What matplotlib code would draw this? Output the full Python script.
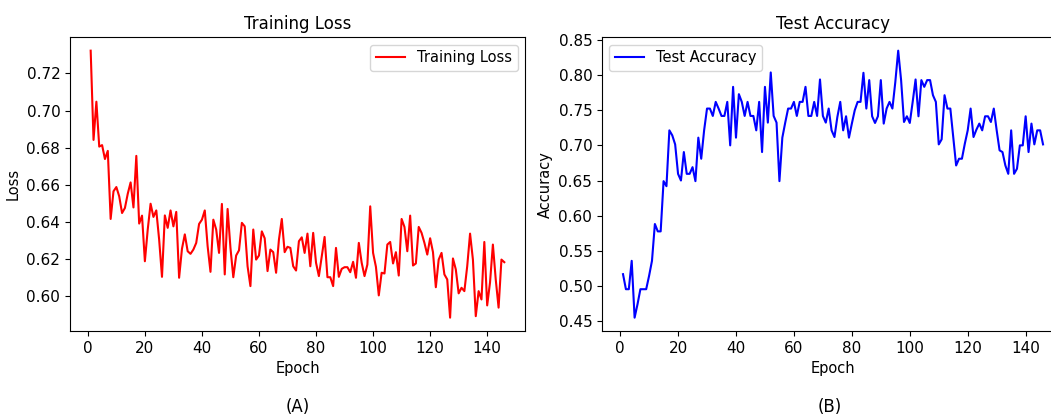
import matplotlib
matplotlib.use("Agg")
import matplotlib.pyplot as plt

# per-epoch training loss
train_loss = [
    0.7323, 0.6842, 0.7048, 0.6806, 0.6814, 0.6739, 0.6783, 0.6416, 0.6565, 0.6588,
    0.6538, 0.6448, 0.6475, 0.6552, 0.6613, 0.6478, 0.6756, 0.6391, 0.6434, 0.6188,
    0.6359, 0.6498, 0.6427, 0.6462, 0.6305, 0.6104, 0.6435, 0.6368, 0.6462, 0.6376,
    0.6454, 0.6099, 0.6255, 0.6333, 0.6242, 0.6228, 0.6251, 0.6287, 0.6389, 0.6412,
    0.6462, 0.6269, 0.6131, 0.6412, 0.6359, 0.6233, 0.6497, 0.6117, 0.6470, 0.6260,
    0.6102, 0.6219, 0.6247, 0.6395, 0.6376, 0.6161, 0.6054, 0.6359, 0.6197, 0.6219,
    0.6349, 0.6312, 0.6135, 0.6251, 0.6237, 0.6126, 0.6305, 0.6416, 0.6237, 0.6266,
    0.6260, 0.6161, 0.6138, 0.6296, 0.6317, 0.6233, 0.6337, 0.6161, 0.6341, 0.6180,
    0.6108, 0.6215, 0.6319, 0.6102, 0.6102, 0.6054, 0.6260, 0.6104, 0.6147, 0.6156,
    0.6156, 0.6129, 0.6185, 0.6099, 0.6287, 0.6180, 0.6108, 0.6170, 0.6484, 0.6233,
    0.6158, 0.6004, 0.6126, 0.6122, 0.6278, 0.6292, 0.6176, 0.6237, 0.6111, 0.6416,
    0.6373, 0.6242, 0.6434, 0.6165, 0.6176, 0.6373, 0.6341, 0.6287, 0.6224, 0.6312,
    0.6237, 0.6048, 0.6197, 0.6233, 0.6117, 0.6090, 0.5884, 0.6203, 0.6144, 0.6015,
    0.6045, 0.6027, 0.6161, 0.6337, 0.6197, 0.5892, 0.6027, 0.5982, 0.6292, 0.5950,
    0.6074, 0.6278, 0.6090, 0.5938, 0.6197, 0.6183,
]

# per-epoch test accuracy
test_acc = [
    0.5167, 0.4953, 0.4953, 0.5357, 0.4548, 0.4738, 0.4953, 0.4953, 0.4953, 0.5143,
    0.5357, 0.5881, 0.5776, 0.5776, 0.6491, 0.6419, 0.7214, 0.7143, 0.7014, 0.6595,
    0.6500, 0.6905, 0.6595, 0.6595, 0.6690, 0.6491, 0.7110, 0.6810, 0.7214, 0.7524,
    0.7524, 0.7419, 0.7619, 0.7524, 0.7419, 0.7419, 0.7619, 0.7000, 0.7833, 0.7110,
    0.7729, 0.7619, 0.7419, 0.7619, 0.7419, 0.7419, 0.7214, 0.7619, 0.6905, 0.7833,
    0.7324, 0.8038, 0.7419, 0.7324, 0.6491, 0.7110, 0.7324, 0.7524, 0.7524, 0.7619,
    0.7419, 0.7619, 0.7619, 0.7833, 0.7419, 0.7419, 0.7619, 0.7419, 0.7938, 0.7419,
    0.7324, 0.7524, 0.7214, 0.7119, 0.7405, 0.7619, 0.7214, 0.7414, 0.7110, 0.7310,
    0.7500, 0.7619, 0.7619, 0.8033, 0.7524, 0.7929, 0.7414, 0.7319, 0.7414, 0.7929,
    0.7310, 0.7524, 0.7619, 0.7524, 0.7900, 0.8348, 0.7929, 0.7333, 0.7414, 0.7319,
    0.7619, 0.7938, 0.7414, 0.7929, 0.7833, 0.7929, 0.7929, 0.7714, 0.7619, 0.7014,
    0.7086, 0.7714, 0.7524, 0.7524, 0.7119, 0.6714, 0.6810, 0.6810, 0.7024, 0.7214,
    0.7524, 0.7119, 0.7224, 0.7310, 0.7214, 0.7414, 0.7414, 0.7333, 0.7524, 0.7214,
    0.6929, 0.6905, 0.6714, 0.6595, 0.7214, 0.6595, 0.6667, 0.7000, 0.7000, 0.7414,
    0.6905, 0.7310, 0.7014, 0.7214, 0.7214, 0.7014,
]

epochs = list(range(1, len(train_loss) + 1))
loss_ticks = [0.60, 0.62, 0.64, 0.66, 0.68, 0.70, 0.72]
acc_ticks = [0.45, 0.50, 0.55, 0.60, 0.65, 0.70, 0.75, 0.80, 0.85]
epoch_ticks = [0, 20, 40, 60, 80, 100, 120, 140]

fig = plt.figure(figsize=(10.51, 4.16), dpi=100)
ax1 = fig.add_axes([0.0666, 0.2043, 0.4329, 0.706])
# right panel runs slightly past the figure edge
ax2 = fig.add_axes([0.5728, 0.2043, 0.4396, 0.706])

ax1.plot(epochs, train_loss, color='red', lw=1.5, label='Training Loss')
ax1.set_title('Training Loss', fontsize=12)
ax1.set_xlabel('Epoch', fontsize=10.5)
ax1.set_ylabel('Loss', fontsize=10.5)
ax1.set_yticks(loss_ticks)
ax1.set_xticks(epoch_ticks)
ax1.tick_params(labelsize=11)
ax1.legend(loc='upper right', fontsize=10.5)

ax2.plot(epochs, test_acc, color='blue', lw=1.5, label='Test Accuracy')
ax2.set_title('Test Accuracy', fontsize=12)
ax2.set_xlabel('Epoch', fontsize=10.5)
ax2.set_ylabel('Accuracy', fontsize=10.5)
ax2.set_yticks(acc_ticks)
ax2.set_xticks(epoch_ticks)
ax2.tick_params(labelsize=11)
ax2.legend(loc='upper left', fontsize=10.5)

fig.text(0.2831, 0.0216, '(A)', ha='center', va='center', fontsize=12)
fig.text(0.7893, 0.0216, '(B)', ha='center', va='center', fontsize=12)

fig.savefig('out.png', dpi=100)
